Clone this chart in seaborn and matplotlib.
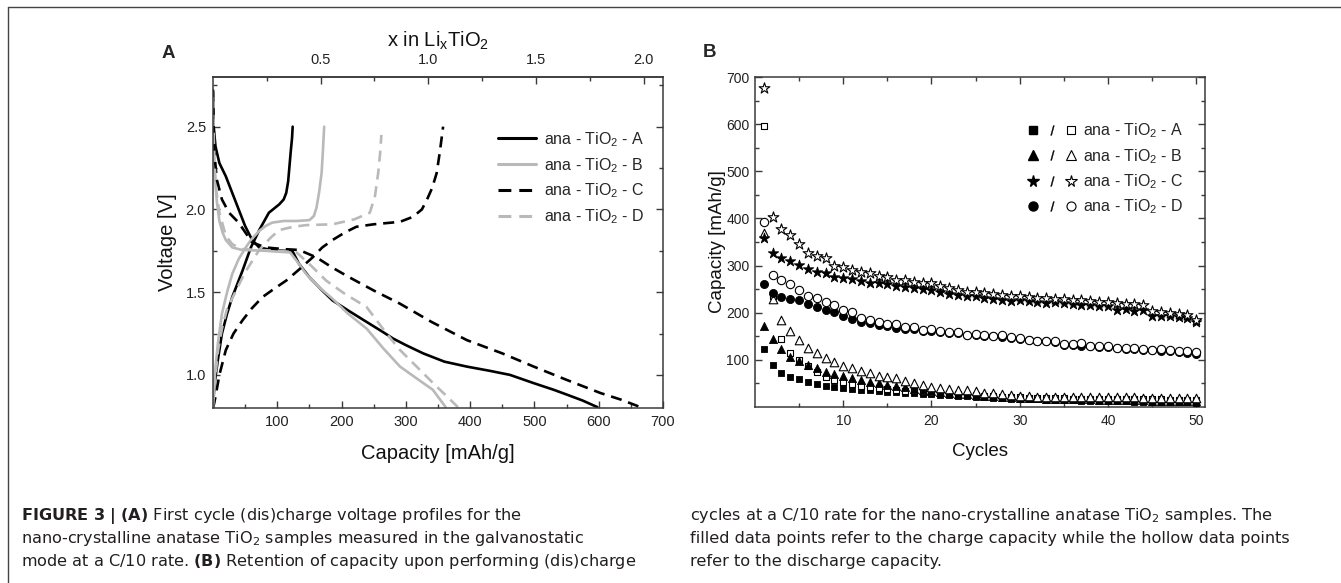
import matplotlib
matplotlib.use("Agg")
import matplotlib.pyplot as plt
import seaborn as sns
from matplotlib.lines import Line2D
from matplotlib.legend_handler import HandlerTuple
from matplotlib.ticker import FixedLocator, NullFormatter

# --- panel A: first cycle voltage profiles (capacity mAh/g, voltage V) ---
cap_A_dis = [0, 1, 4, 10, 20, 30, 40, 50, 61, 72, 90, 110, 124, 134, 150, 170, 186, 210, 239, 264,
             280, 300, 327, 360, 395, 430, 462, 499, 530, 551, 575, 598]
volt_A_dis = [2.72, 2.5, 2.38, 2.28, 2.2, 2.1, 2.0, 1.9, 1.815, 1.77, 1.755, 1.75, 1.745, 1.67, 1.59,
              1.51, 1.45, 1.39, 1.32, 1.26, 1.22, 1.18, 1.13, 1.08, 1.05, 1.025, 1.0, 0.95, 0.91, 0.88,
              0.845, 0.805]
cap_A_chg = [0, 2, 4, 8, 14, 22, 30, 38, 46, 59, 72, 87, 103, 110, 114, 117, 119, 121, 123, 124]
volt_A_chg = [0.8, 0.92, 0.99, 1.1, 1.25, 1.37, 1.47, 1.55, 1.63, 1.77, 1.875, 1.98, 2.03, 2.06, 2.1,
              2.17, 2.26, 2.35, 2.43, 2.5]

cap_B_dis = [0, 1, 3, 6, 10, 15, 20, 30, 45, 80, 120, 130, 145, 165, 186, 210, 239, 265, 291, 320,
             342, 362]
volt_B_dis = [2.65, 2.4, 2.2, 2.05, 1.93, 1.86, 1.815, 1.77, 1.755, 1.75, 1.74, 1.69, 1.61, 1.53,
              1.46, 1.37, 1.28, 1.16, 1.05, 0.97, 0.91, 0.805]
cap_B_chg = [0, 2, 4, 8, 14, 22, 30, 40, 51, 60, 72, 82, 92, 110, 130, 150, 157, 161, 165, 169, 171, 173]
volt_B_chg = [0.8, 0.95, 1.05, 1.2, 1.37, 1.5, 1.61, 1.7, 1.77, 1.82, 1.87, 1.9, 1.92, 1.93, 1.93,
              1.935, 1.96, 2.01, 2.1, 2.22, 2.35, 2.5]

cap_C_dis = [0, 2, 6, 14, 25, 40, 61, 82, 110, 134, 161, 185, 212, 250, 291, 340, 395, 450, 499, 550,
             603, 635, 665]
volt_C_dis = [2.72, 2.35, 2.18, 2.06, 1.98, 1.92, 1.8, 1.77, 1.76, 1.755, 1.71, 1.65, 1.59, 1.51,
              1.43, 1.32, 1.21, 1.13, 1.05, 0.97, 0.89, 0.85, 0.805]
cap_C_chg = [0, 2, 4, 10, 20, 32, 46, 60, 77, 95, 114, 135, 155, 170, 186, 205, 223, 250, 291, 311,
             325, 333, 341, 348, 353, 358]
volt_C_chg = [0.8, 0.83, 0.87, 1.0, 1.15, 1.25, 1.33, 1.4, 1.47, 1.52, 1.57, 1.64, 1.71, 1.77, 1.815,
              1.86, 1.895, 1.91, 1.925, 1.955, 2.0, 2.06, 2.13, 2.22, 2.35, 2.5]

cap_D_dis = [0, 2, 5, 10, 20, 30, 45, 70, 100, 130, 150, 176, 205, 239, 270, 291, 322, 345, 364, 381]
volt_D_dis = [2.68, 2.3, 2.12, 1.98, 1.84, 1.79, 1.76, 1.755, 1.75, 1.74, 1.67, 1.57, 1.49, 1.41,
              1.25, 1.15, 1.03, 0.94, 0.87, 0.805]
cap_D_chg = [0, 2, 4, 8, 14, 22, 36, 50, 72, 90, 103, 125, 145, 186, 220, 244, 252, 257, 260, 262]
volt_D_chg = [0.8, 0.92, 1.0, 1.15, 1.28, 1.4, 1.51, 1.62, 1.755, 1.83, 1.875, 1.895, 1.905, 1.91,
              1.94, 1.98, 2.08, 2.22, 2.34, 2.45]

# --- panel B: capacity retention over 50 cycles (mAh/g) ---
cycles = list(range(1, 51))
A_charge = [123, 89, 73, 64, 59, 53, 48, 45, 43, 41, 39, 37, 35, 34, 32, 31, 30, 29, 28, 27,
            26, 25, 24, 23, 22, 21, 20, 19, 18, 17, 16, 16, 15, 15, 14, 14, 13, 13, 13, 12,
            12, 12, 11, 11, 11, 10, 10, 10, 10, 9]
A_discharge = [596, 236, 144, 114, 100, 86, 75, 64, 57, 52, 48, 45, 42, 40, 38, 36, 34, 33, 31, 30,
               29, 28, 27, 26, 25, 24, 23, 22, 21, 21, 20, 20, 19, 19, 19, 18, 18, 18, 17, 17,
               17, 17, 16, 16, 16, 16, 15, 15, 15, 15]
B_charge = [172, 144, 123, 107, 98, 89, 82, 75, 70, 66, 62, 57, 54, 50, 47, 44, 42, 39, 36, 33,
            31, 29, 28, 27, 26, 24, 23, 22, 21, 20, 19, 19, 18, 18, 17, 17, 16, 16, 15, 15,
            15, 14, 14, 14, 13, 13, 13, 12, 12, 12]
B_discharge = [369, 230, 185, 162, 143, 126, 114, 104, 96, 87, 82, 77, 72, 66, 63, 61, 56, 50, 46, 42,
               40, 38, 36, 35, 33, 30, 29, 28, 26, 24, 23, 22, 22, 22, 22, 22, 21, 21, 21, 21,
               21, 21, 21, 20, 20, 20, 20, 20, 20, 20]
C_charge = [359, 327, 316, 309, 301, 293, 287, 284, 276, 274, 272, 267, 263, 262, 260, 257, 255, 252, 250, 249,
            244, 240, 238, 235, 235, 231, 230, 227, 225, 226, 224, 222, 221, 222, 220, 218, 217, 216, 214, 215,
            206, 208, 204, 206, 194, 193, 192, 190, 188, 181]
C_discharge = [676, 403, 377, 364, 345, 327, 321, 316, 299, 296, 291, 286, 284, 277, 276, 270, 269, 265, 263, 263,
               257, 252, 249, 245, 245, 242, 240, 238, 236, 235, 233, 232, 231, 230, 229, 228, 226, 225, 223, 222,
               221, 219, 218, 217, 203, 202, 199, 197, 196, 185]
D_charge = [261, 242, 233, 229, 226, 219, 213, 205, 201, 194, 187, 181, 178, 174, 171, 168, 166, 165, 162, 161,
            159, 157, 156, 153, 152, 151, 150, 149, 147, 144, 142, 140, 139, 137, 132, 131, 130, 129, 127, 128,
            125, 124, 123, 121, 121, 119, 118, 116, 115, 113]
D_discharge = [392, 281, 269, 260, 249, 236, 231, 222, 217, 206, 201, 189, 185, 181, 177, 175, 170, 170, 164, 166,
               162, 160, 159, 153, 155, 153, 151, 153, 148, 146, 143, 141, 141, 139, 134, 134, 135, 130, 130, 130,
               126, 125, 126, 123, 121, 123, 121, 118, 118, 116]

sample_names = ['ana - TiO$_2$ - A', 'ana - TiO$_2$ - B', 'ana - TiO$_2$ - C', 'ana - TiO$_2$ - D']

sns.set_style("ticks")
plt.rcParams['font.family'] = ['Liberation Sans', 'DejaVu Sans']
plt.rcParams['mathtext.fontset'] = 'custom'
plt.rcParams['mathtext.rm'] = 'Liberation Sans'
plt.rcParams['mathtext.it'] = 'Liberation Sans:italic'
plt.rcParams['mathtext.bf'] = 'Liberation Sans:bold'

SPINE = '#3a3a3a'
GREY = '#b9b9b9'
DASH = (0, (4.2, 2.6))

fig = plt.figure(figsize=(13.41, 5.83), dpi=100)


def style_axes(ax, labelsize):
    for sp in ax.spines.values():
        sp.set_color(SPINE)
        sp.set_linewidth(1.1)
        sp.set_visible(True)
    ax.tick_params(which='both', direction='in', top=False, right=True, colors=SPINE,
                   labelcolor='#222222', labelsize=labelsize, width=1.0)
    ax.tick_params(which='major', length=4.8, pad=5)
    ax.tick_params(which='minor', length=2.8)


# ============================ PANEL A ============================
axA = fig.add_axes([0.1588, 0.3002, 0.3356, 0.5677])
curves = [
    (cap_A_dis, volt_A_dis, 'black', '-'), (cap_A_chg, volt_A_chg, 'black', '-'),
    (cap_B_dis, volt_B_dis, GREY, '-'), (cap_B_chg, volt_B_chg, GREY, '-'),
    (cap_C_dis, volt_C_dis, 'black', DASH), (cap_C_chg, volt_C_chg, 'black', DASH),
    (cap_D_dis, volt_D_dis, GREY, DASH), (cap_D_chg, volt_D_chg, GREY, DASH),
]
for xs, ys, col, ls in curves:
    sns.lineplot(x=xs, y=ys, ax=axA, color=col, linestyle=ls, linewidth=1.9,
                 sort=False, estimator=None)

axA.set_xlim(0, 700)
axA.set_ylim(0.8, 2.8)
style_axes(axA, 10.5)
axA.xaxis.set_major_locator(FixedLocator([100, 200, 300, 400, 500, 600, 700]))
axA.xaxis.set_minor_locator(FixedLocator([50, 150, 250, 350, 450, 550, 650]))
axA.yaxis.set_major_locator(FixedLocator([1.0, 1.5, 2.0, 2.5]))
axA.yaxis.set_minor_locator(FixedLocator([1.25, 1.75, 2.25, 2.75]))
axA.set_xlabel('Capacity [mAh/g]', fontsize=14.5, labelpad=10.5, color='#111111')
axA.set_ylabel('Voltage [V]', fontsize=14.5, labelpad=6, color='#111111')

secA = axA.secondary_xaxis('top', functions=(lambda c: c / 335.0, lambda x: x * 335.0))
secA.xaxis.set_major_locator(FixedLocator([0.5, 1.0, 1.5, 2.0]))
secA.xaxis.set_minor_locator(FixedLocator([0.25, 0.75, 1.25, 1.75]))
secA.tick_params(which='both', direction='in', colors=SPINE, labelcolor='#222222',
                 labelsize=10.5, width=1.0)
secA.tick_params(which='major', length=4.8, pad=7)
secA.tick_params(which='minor', length=2.8)
secA.spines['top'].set_color(SPINE)
secA.spines['top'].set_linewidth(1.1)
secA.set_xlabel(r'x in Li$_{\rm x}$TiO$_2$', fontsize=14.5, labelpad=5, color='#111111')

handlesA = [
    Line2D([], [], color='black', lw=2.2, ls='-'),
    Line2D([], [], color=GREY, lw=2.2, ls='-'),
    Line2D([], [], color='black', lw=2.2, ls=DASH),
    Line2D([], [], color=GREY, lw=2.2, ls=DASH),
]
axA.legend(handlesA, sample_names, loc='upper left', bbox_to_anchor=(0.633, 0.84),
           frameon=False, fontsize=11.5, handlelength=2.4, handletextpad=0.5,
           labelspacing=0.45, borderpad=0, borderaxespad=0)

fig.text(162 / 1341, 1 - 58 / 583, 'A', fontsize=13.5, fontweight='bold', va='baseline')

# ============================ PANEL B ============================
axB = fig.add_axes([0.563, 0.3019, 0.3356, 0.566])
series = [
    (A_charge, 's', 22, True), (A_discharge, 's', 24, False),
    (B_charge, '^', 34, True), (B_discharge, '^', 38, False),
    (C_charge, '*', 62, True), (C_discharge, '*', 66, False),
    (D_charge, 'o', 34, True), (D_discharge, 'o', 36, False),
]
for i, (vals, mk, size, filled) in enumerate(series):
    sns.scatterplot(x=cycles, y=vals, ax=axB, marker=mk, s=size,
                    color='black' if filled else 'white', edgecolor='black',
                    linewidth=0.6 if filled else 0.8, zorder=3 + i)

axB.set_xlim(0, 51)
axB.set_ylim(0, 700)
style_axes(axB, 10)
axB.tick_params(which='both', top=True)
axB.xaxis.set_major_locator(FixedLocator([10, 20, 30, 40, 50]))
axB.xaxis.set_minor_locator(FixedLocator([5, 15, 25, 35, 45]))
axB.yaxis.set_major_locator(FixedLocator([100, 200, 300, 400, 500, 600, 700]))
axB.yaxis.set_minor_locator(FixedLocator([50, 150, 250, 350, 450, 550, 650]))
axB.xaxis.set_minor_formatter(NullFormatter())
axB.tick_params(axis='y', which='major', pad=4)
axB.set_xlabel('Cycles', fontsize=13.5, labelpad=11, color='#111111')
axB.set_ylabel('Capacity [mAh/g]', fontsize=13.5, labelpad=0, color='#111111')

marker_specs = [('s', 5.5), ('^', 6.5), ('*', 8.5), ('o', 6.5)]
handlesB = []
for mk, ms in marker_specs:
    full = Line2D([], [], ls='none', marker=mk, ms=ms, color='black', mec='black')
    slash = Line2D([], [], ls='none', marker='$/$', ms=7, color='black', mew=0.3)
    hollow = Line2D([], [], ls='none', marker=mk, ms=ms, mfc='white', mec='black', mew=0.8)
    handlesB.append((full, slash, hollow))
axB.legend(handlesB, sample_names, loc='upper left', bbox_to_anchor=(0.598, 0.865),
           frameon=False, fontsize=11.5, handlelength=3.5, handletextpad=0.2,
           labelspacing=0.42, borderpad=0, borderaxespad=0,
           handler_map={tuple: HandlerTuple(ndivide=None, pad=0)})

fig.text(703 / 1341, 1 - 57 / 583, 'B', fontsize=13.5, fontweight='bold', va='baseline')

# ============================ caption and frame ============================
cap_col = '#231f20'
left_lines = [
    r'$\bf{FIGURE\ 3\ |\ (A)}$ First cycle (dis)charge voltage profiles for the',
    'nano-crystalline anatase TiO$_2$ samples measured in the galvanostatic',
    r'mode at a C/10 rate. $\bf{(B)}$ Retention of capacity upon performing (dis)charge',
]
right_lines = [
    'cycles at a C/10 rate for the nano-crystalline anatase TiO$_2$ samples. The',
    'filled data points refer to the charge capacity while the hollow data points',
    'refer to the discharge capacity.',
]
baselines = [520, 543, 566]
for txt, yb in zip(left_lines, baselines):
    fig.text(21 / 1341, 1 - yb / 583, txt, fontsize=11.6, color=cap_col, va='baseline',
             family='DejaVu Sans', math_fontfamily='dejavusans')
for txt, yb in zip(right_lines, baselines):
    fig.text(690 / 1341, 1 - yb / 583, txt, fontsize=11.6, color=cap_col, va='baseline',
             family='DejaVu Sans', math_fontfamily='dejavusans')

fig.add_artist(Line2D([8 / 1341, 1.0], [1 - 7 / 583, 1 - 7 / 583], color='#444444', lw=1.0))
fig.add_artist(Line2D([8 / 1341, 8 / 1341], [0.0, 1 - 7 / 583], color='#444444', lw=1.0))

fig.savefig('out.png', dpi=100)
